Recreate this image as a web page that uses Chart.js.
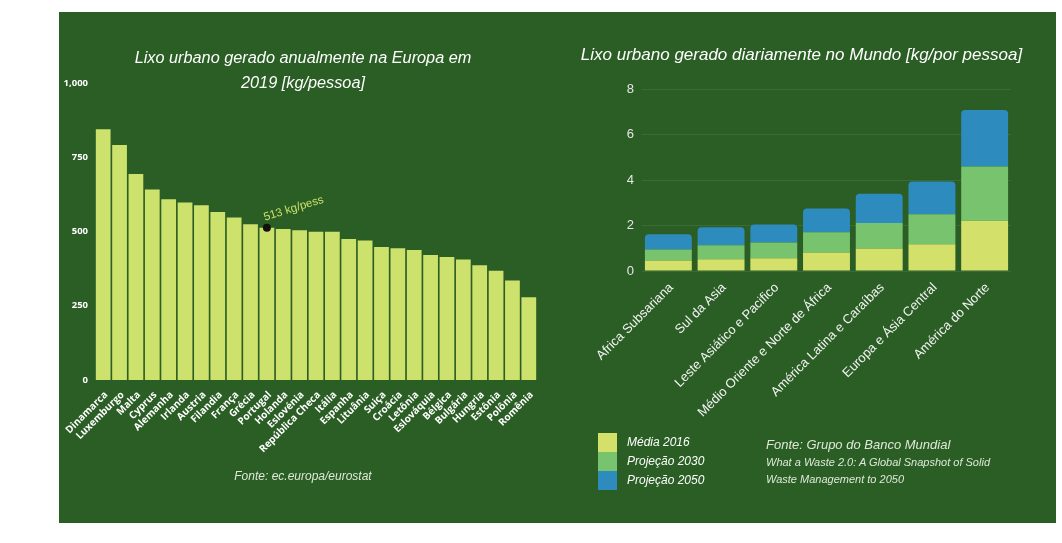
<!DOCTYPE html>
<html>
<head>
<meta charset="utf-8">
<script src="https://cdn.jsdelivr.net/npm/chart.js@4.4.1/dist/chart.umd.min.js"></script>
<style>
    body { margin: 0; background: #fff; width: 1062px; height: 543px; position: relative; overflow: hidden; font-family: "Liberation Sans", Arial, sans-serif; }
    .panel { position: absolute; top: 12px; height: 511px; background: #2a5e24; }
    #pLeft { left: 59px; width: 488px; }
    #pRight { left: 547px; width: 509px; }
    .box { position: absolute; left: 0; top: 0; width: 100%; height: 100%; }
    .title { position: absolute; left: 0; width: 100%; text-align: center; color: #fff; font-style: italic; white-space: nowrap; }
    .src { position: absolute; color: #dfe8d8; font-style: italic; white-space: nowrap; }
    .legend { position: absolute; left: 51px; top: 421px; }
    .legend div { height: 19px; line-height: 19px; position: relative; padding-left: 29px; color: #fff; font-style: italic; font-size: 12px; }
    .legend span { position: absolute; left: 0; top: 0; width: 19px; height: 19px; }
</style>
</head>
<body>
<div class="panel" id="pLeft">
    <div class="box"><canvas id="europeChart"></canvas></div>
    <div class="title" style="top:33px; line-height:25px; font-size:16.3px;">Lixo urbano gerado anualmente na Europa em<br>2019 [kg/pessoa]</div>
    <div class="src" style="left:0; width:100%; text-align:center; top:456px; line-height:16px; font-size:12px;">Fonte: ec.europa/eurostat</div>
</div>
<div class="panel" id="pRight">
    <div class="box"><canvas id="worldChart"></canvas></div>
    <div class="title" style="top:33px; line-height:20px; font-size:17px;">Lixo urbano gerado diariamente no Mundo [kg/por pessoa]</div>
    <div class="legend" id="worldLegend"></div>
    <div class="src" style="left:219px; top:424px; line-height:18px; font-size:13px;">Fonte: Grupo do Banco Mundial</div>
    <div class="src" style="left:219px; top:442px; line-height:17px; font-size:11px;">What a Waste 2.0: A Global Snapshot of Solid<br>Waste Management to 2050</div>
</div>

<script>
// Europa 2019, kg por pessoa
const europeLabels = ["Dinamarca", "Luxemburgo", "Malta", "Cyprus", "Alemanha", "Irlanda", "Austria", "Filandia",
    "França", "Grécia", "Portugal", "Holanda", "Eslovénia", "República Checa", "Itália", "Espanha", "Lituânia",
    "Suiça", "Croácia", "Letônia", "Eslováquia", "Bélgica", "Bulgária", "Hungria", "Estônia", "Polônia", "Romênia"];
const europeValues = [844, 791, 694, 641, 609, 598, 588, 566, 547, 524, 513, 508, 504, 499, 499, 475, 470,
    448, 444, 438, 421, 414, 406, 386, 368, 335, 279];
const europeTicks = [0, 250, 500, 750, 1000];
const noteCountry = "Portugal";

// Mundo, kg por pessoa por dia (valores empilhados)
const worldLabels = ["Africa Subsariana", "Sul da Asia", "Leste Asiático e Pacifico", "Médio Oriente e Norte de África",
    "América Latina e Caraíbas", "Europa e Ásia Central", "América do Norte"];
const media2016 = [0.46, 0.52, 0.56, 0.81, 0.99, 1.18, 2.21];
const proj2030 = [0.49, 0.61, 0.69, 0.89, 1.12, 1.31, 2.38];
const proj2050 = [0.66, 0.79, 0.79, 1.05, 1.29, 1.44, 2.49];
const worldSeries = ["Média 2016", "Projeção 2030", "Projeção 2050"];
const worldColors = ["#d3e06a", "#78c36e", "#2e8bbd"];

// sem folga extra dos rótulos inclinados
const noPad = (s) => { s.paddingLeft = 0; s.paddingRight = 0; };

// ponto e texto sobre Portugal
const notePlugin = {
    id: "portugalNote",
    afterDatasetsDraw(chart) {
        const i = europeLabels.indexOf(noteCountry);
        const x = chart.scales.x.getPixelForValue(i);
        const y = chart.scales.y.getPixelForValue(europeValues[i]);
        const ctx = chart.ctx;
        ctx.save();
        ctx.fillStyle = "#111";
        ctx.beginPath();
        ctx.arc(x, y, 4, 0, Math.PI * 2);
        ctx.fill();
        ctx.translate(x - 2, y - 7);
        ctx.rotate(-17 * Math.PI / 180);
        ctx.font = '11.5px "Liberation Sans", Arial, sans-serif';
        ctx.fillStyle = "#c9e06b";
        ctx.fillText(europeValues[i] + " kg/pess", 0, 0);
        ctx.restore();
    },
};

new Chart(document.getElementById("europeChart"), {
    type: "bar",
    data: {
        labels: europeLabels,
        datasets: [{
            data: europeValues,
            backgroundColor: "#cde26d",
            barPercentage: 0.9,
            categoryPercentage: 1,
        }],
    },
    options: {
        responsive: true,
        maintainAspectRatio: false,
        animation: false,
        layout: { padding: { top: 71, right: 10, bottom: 0, left: 0 } },
        plugins: { legend: { display: false }, tooltip: { enabled: false } },
        scales: {
            x: {
                grid: { display: false, drawTicks: false },
                border: { display: false },
                afterFit: (s) => { s.height = 143; noPad(s); },
                ticks: {
                    autoSkip: false,
                    maxRotation: 45,
                    minRotation: 45,
                    padding: 9,
                    labelOffset: 3,
                    color: "#fff",
                    font: { family: "'Open Sans', sans-serif", size: 10, weight: "bold" },
                },
            },
            y: {
                min: 0,
                max: 1000,
                afterFit: (s) => { s.width = 36; },
                afterBuildTicks: (s) => { s.ticks = europeTicks.map((v) => ({ value: v })); },
                grid: { display: false, drawTicks: false },
                border: { display: false },
                ticks: {
                    padding: 7,
                    color: "#fff",
                    font: { family: "'Open Sans', sans-serif", size: 9.5, weight: "bold" },
                    callback: (v) => v.toLocaleString("en-US"),
                },
            },
        },
    },
    plugins: [notePlugin],
});

new Chart(document.getElementById("worldChart"), {
    type: "bar",
    data: {
        labels: worldLabels,
        datasets: [media2016, proj2030, proj2050].map((vals, k) => ({
            label: worldSeries[k],
            data: vals,
            backgroundColor: worldColors[k],
            barPercentage: 0.89,
            categoryPercentage: 1,
            borderRadius: k === 2 ? { topLeft: 4, topRight: 4 } : 0,
        })),
    },
    options: {
        responsive: true,
        maintainAspectRatio: false,
        animation: false,
        layout: { padding: { top: 77, right: 45, bottom: 0, left: 0 } },
        plugins: { legend: { display: false }, tooltip: { enabled: false } },
        scales: {
            x: {
                stacked: true,
                grid: { display: false, drawTicks: false },
                border: { display: false },
                afterFit: (s) => { s.height = 252; noPad(s); },
                ticks: {
                    autoSkip: false,
                    maxRotation: 45,
                    minRotation: 45,
                    padding: 9,
                    labelOffset: 3,
                    color: "#f2f2f2",
                    font: { family: "'Liberation Sans', Arial, sans-serif", size: 13 },
                },
            },
            y: {
                stacked: true,
                min: 0,
                max: 8,
                afterFit: (s) => { s.width = 95; },
                grid: { color: "rgba(255,255,255,0.08)", drawTicks: false },
                border: { display: false },
                ticks: {
                    stepSize: 2,
                    padding: 8,
                    color: "#e6e6e6",
                    font: { family: "'Liberation Sans', Arial, sans-serif", size: 13 },
                },
            },
        },
    },
});

// legenda feita à mão, quadrados colados
const legend = document.getElementById("worldLegend");
worldSeries.forEach((name, k) => {
    const row = document.createElement("div");
    row.innerHTML = `<span style="background:${worldColors[k]}"></span>${name}`;
    legend.appendChild(row);
});
</script>
</body>
</html>
